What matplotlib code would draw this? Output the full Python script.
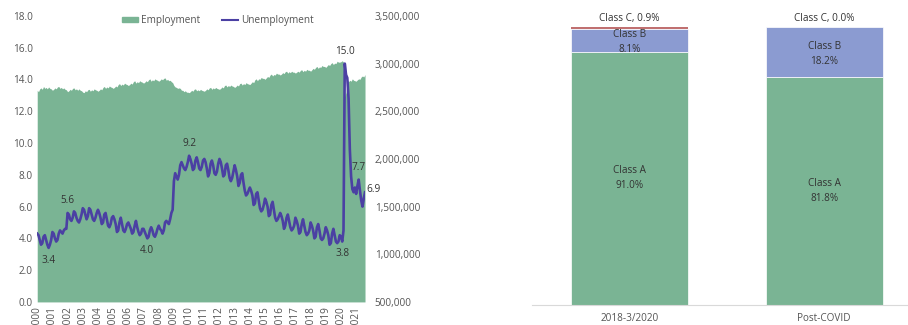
import numpy as np
import matplotlib.pyplot as plt
from matplotlib.patches import Patch
from matplotlib.lines import Line2D

plt.rcParams['font.family'] = ['Open Sans', 'DejaVu Sans']

# monthly data, Jan 2000 - Aug 2021
years = list(range(2000, 2022))

unemployment = [
    4.3, 4.2, 3.9, 3.6, 3.7, 4.1, 4.2, 3.9, 3.6, 3.4, 3.6, 3.9,   # 2000
    4.4, 4.3, 4.0, 3.8, 3.9, 4.3, 4.5, 4.4, 4.3, 4.5, 4.6, 4.6,   # 2001
    5.6, 5.5, 5.2, 5.1, 5.3, 5.7, 5.6, 5.3, 5.1, 5.0, 5.2, 5.5,   # 2002
    5.9, 5.8, 5.5, 5.2, 5.4, 5.9, 5.8, 5.5, 5.2, 5.1, 5.3, 5.6,   # 2003
    5.8, 5.6, 5.3, 4.9, 5.0, 5.5, 5.6, 5.2, 4.8, 4.7, 4.9, 5.3,   # 2004
    5.4, 5.2, 4.9, 4.4, 4.5, 5.0, 5.3, 4.9, 4.5, 4.4, 4.6, 4.9,   # 2005
    5.0, 4.8, 4.6, 4.3, 4.4, 4.8, 5.1, 4.7, 4.4, 4.2, 4.3, 4.6,   # 2006
    4.6, 4.4, 4.2, 4.0, 4.1, 4.5, 4.7, 4.5, 4.2, 4.1, 4.3, 4.6,   # 2007
    4.8, 4.6, 4.5, 4.3, 4.5, 5.0, 5.1, 5.0, 4.9, 5.2, 5.6, 5.8,   # 2008
    7.6, 8.1, 7.9, 7.7, 8.0, 8.6, 8.8, 8.6, 8.4, 8.3, 8.5, 8.8,   # 2009
    9.2, 9.0, 8.7, 8.3, 8.4, 8.9, 9.1, 8.8, 8.4, 8.3, 8.5, 8.9,   # 2010
    9.0, 8.8, 8.4, 7.9, 8.1, 8.7, 8.9, 8.6, 8.1, 8.0, 8.2, 8.7,   # 2011
    9.0, 8.8, 8.4, 7.9, 8.0, 8.6, 8.7, 8.3, 7.8, 7.6, 7.8, 8.2,   # 2012
    8.6, 8.3, 7.9, 7.3, 7.5, 8.0, 8.1, 7.5, 7.0, 6.7, 6.8, 7.0,   # 2013
    7.2, 7.0, 6.7, 6.1, 6.2, 6.8, 6.9, 6.4, 5.9, 5.7, 5.8, 6.1,   # 2014
    6.5, 6.3, 6.0, 5.4, 5.5, 6.1, 6.3, 5.8, 5.3, 5.1, 5.2, 5.4,   # 2015
    5.6, 5.4, 5.1, 4.6, 4.8, 5.3, 5.5, 5.1, 4.7, 4.5, 4.6, 4.8,   # 2016
    5.3, 5.1, 4.8, 4.3, 4.4, 4.9, 5.2, 4.8, 4.4, 4.2, 4.3, 4.5,   # 2017
    5.0, 4.8, 4.5, 4.0, 4.1, 4.7, 4.9, 4.5, 4.0, 3.9, 4.0, 4.3,   # 2018
    4.7, 4.5, 4.2, 3.6, 3.7, 4.3, 4.6, 4.2, 3.8, 3.7, 3.8, 4.2,   # 2019
    4.1, 3.8, 4.5, 15.0, 14.3, 14.1, 12.8, 9.6, 7.9, 7.1, 6.9, 7.2,  # 2020
    6.8, 7.3, 7.7, 7.0, 6.4, 6.0, 6.5, 6.9,                       # 2021
]

employment = [
    2720, 2705, 2735, 2745, 2730, 2760, 2740, 2750, 2735, 2755, 2740, 2735,
    2720, 2730, 2745, 2735, 2755, 2760, 2740, 2750, 2735, 2745, 2730, 2725,
    2705, 2715, 2730, 2720, 2740, 2745, 2725, 2735, 2720, 2735, 2720, 2715,
    2700, 2695, 2715, 2705, 2725, 2730, 2710, 2725, 2715, 2735, 2725, 2720,
    2710, 2720, 2735, 2725, 2750, 2760, 2740, 2755, 2745, 2765, 2755, 2750,
    2740, 2750, 2765, 2755, 2780, 2790, 2770, 2785, 2775, 2795, 2785, 2780,
    2770, 2780, 2795, 2785, 2810, 2820, 2795, 2810, 2800, 2820, 2810, 2805,
    2795, 2805, 2820, 2810, 2830, 2840, 2815, 2830, 2820, 2840, 2830, 2825,
    2815, 2825, 2840, 2830, 2845, 2850, 2825, 2835, 2820, 2825, 2810, 2800,
    2770, 2755, 2750, 2740, 2745, 2740, 2720, 2720, 2705, 2715, 2700, 2700,
    2695, 2705, 2720, 2710, 2730, 2735, 2715, 2725, 2715, 2730, 2720, 2715,
    2710, 2720, 2735, 2725, 2745, 2750, 2730, 2745, 2735, 2750, 2740, 2735,
    2730, 2740, 2755, 2745, 2770, 2775, 2755, 2770, 2760, 2775, 2765, 2760,
    2750, 2760, 2775, 2765, 2790, 2795, 2775, 2790, 2780, 2800, 2790, 2785,
    2780, 2795, 2810, 2800, 2830, 2840, 2820, 2840, 2835, 2855, 2845, 2845,
    2835, 2850, 2865, 2855, 2880, 2890, 2870, 2885, 2880, 2900, 2890, 2890,
    2880, 2890, 2905, 2895, 2915, 2920, 2900, 2915, 2905, 2920, 2910, 2910,
    2900, 2910, 2920, 2910, 2930, 2935, 2915, 2930, 2920, 2940, 2930, 2930,
    2920, 2935, 2950, 2940, 2960, 2970, 2950, 2965, 2960, 2980, 2970, 2970,
    2960, 2975, 2990, 2980, 3000, 3010, 2990, 3005, 3000, 3025, 3015, 3015,
    3020, 3030, 3015, 2650, 2700, 2830, 2810, 2825, 2815, 2840, 2825, 2820,
    2815, 2830, 2840, 2835, 2860, 2870, 2860, 2885,
]
employment = [v * 1000 for v in employment]

# labelled points: (year, month, text, position)
labels = [
    (2000, 10, '3.4', 'below'),
    (2002, 1, '5.6', 'above'),
    (2007, 4, '4.0', 'below'),
    (2010, 1, '9.2', 'above'),
    (2020, 2, '3.8', 'below'),
    (2020, 4, '15.0', 'above'),
    (2021, 3, '7.7', 'above'),
    (2021, 8, '6.9', 'right'),
]

categories = ['2018-3/2020', 'Post-COVID']
class_a = [91.0, 81.8]
class_b = [8.1, 18.2]
class_c = [0.9, 0.0]

green = '#7ab494'
purple = '#4b40a3'
blue = '#8b9bd1'
red = '#c07070'
txt = '#333333'
tick_col = '#555555'
fs = 7.2

fig = plt.figure(figsize=(9.08, 3.25), dpi=100)

# ---- left: employment area + unemployment line
ax = fig.add_axes([0.041, 0.071, 0.361, 0.880])
ax2 = ax.twinx()
x = np.arange(len(unemployment))

ax2.fill_between(x, 500000, employment, color=green, lw=0)
ax2.set_ylim(500000, 3500000)
ax2.set_yticks(np.arange(500000, 3500001, 500000))
ax2.set_yticklabels([f'{v:,}' for v in range(500000, 3500001, 500000)])

ax.set_zorder(ax2.get_zorder() + 1)
ax.patch.set_visible(False)
ax.plot(x, unemployment, color=purple, lw=1.9, solid_joinstyle='round')
ax.set_ylim(0, 18)
ax.set_yticks(np.arange(0, 18.1, 2))
ax.set_yticklabels([f'{v:.1f}' for v in np.arange(0, 18.1, 2)])
ax.set_xlim(0, len(unemployment) - 1)
ax.set_xticks([i * 12 for i in range(len(years))])
ax.set_xticklabels([str(y) for y in years], rotation=90)

for a in (ax, ax2):
    for s in a.spines.values():
        s.set_visible(False)
    a.tick_params(length=0, labelsize=fs, colors=tick_col, pad=3)
ax2.tick_params(pad=7)

for yr, mo, t, pos in labels:
    i = (yr - 2000) * 12 + mo - 1
    v = unemployment[i]
    if pos == 'above':
        ax.annotate(t, (i, v), xytext=(0, 5), textcoords='offset points',
                    ha='center', va='bottom', fontsize=fs, color=txt)
    elif pos == 'below':
        ax.annotate(t, (i, v), xytext=(0, -5), textcoords='offset points',
                    ha='center', va='top', fontsize=fs, color=txt)
    else:
        ax.annotate(t, (i, v), xytext=(1, 2), textcoords='offset points',
                    ha='left', va='center', fontsize=fs, color=txt)

handles = [Patch(color=green, label='Employment'),
           Line2D([], [], color=purple, lw=1.5, label='Unemployment')]
ax.legend(handles=handles, loc='upper center', bbox_to_anchor=(0.55, 1.035),
          ncol=2, frameon=False, fontsize=fs, handlelength=1.6,
          handleheight=0.5, handletextpad=0.3, columnspacing=2.2,
          labelcolor=tick_col)

# ---- right: stacked bars
bx = fig.add_axes([0.586, 0.0615, 0.414, 0.856])
pos = np.arange(len(categories))
bx.bar(pos, class_a, width=0.6, color=green, edgecolor='white', lw=0.5)
bx.bar(pos, class_b, width=0.6, bottom=class_a, color=blue,
       edgecolor='white', lw=0.5)
bottom_c = [a + b for a, b in zip(class_a, class_b)]
bx.bar(pos, class_c, width=0.6, bottom=bottom_c, color=red, lw=0)
bx.set_xlim(-0.5, 1.43)
bx.set_ylim(0, 100)

for p, a, b, c in zip(pos, class_a, class_b, class_c):
    bx.text(p, a / 2, f'Class A\n{a:.1f}%', ha='center', va='center',
            fontsize=fs, color=txt, linespacing=1.5)
    bx.text(p, a + b / 2 - 0.5, f'Class B\n{b:.1f}%', ha='center',
            va='center', fontsize=fs, color=txt, linespacing=1.5)
    bx.text(p, a + b + c + 1, f'Class C, {c:.1f}%', ha='center', va='bottom',
            fontsize=fs, color=txt)

bx.set_xticks(pos)
bx.set_xticklabels(categories)
bx.set_yticks([])
for k in ('top', 'right', 'left'):
    bx.spines[k].set_visible(False)
bx.spines['bottom'].set_color('#d9d9d9')
bx.tick_params(length=0, labelsize=fs, colors=tick_col, pad=6)

fig.savefig('out.png', dpi=100)
